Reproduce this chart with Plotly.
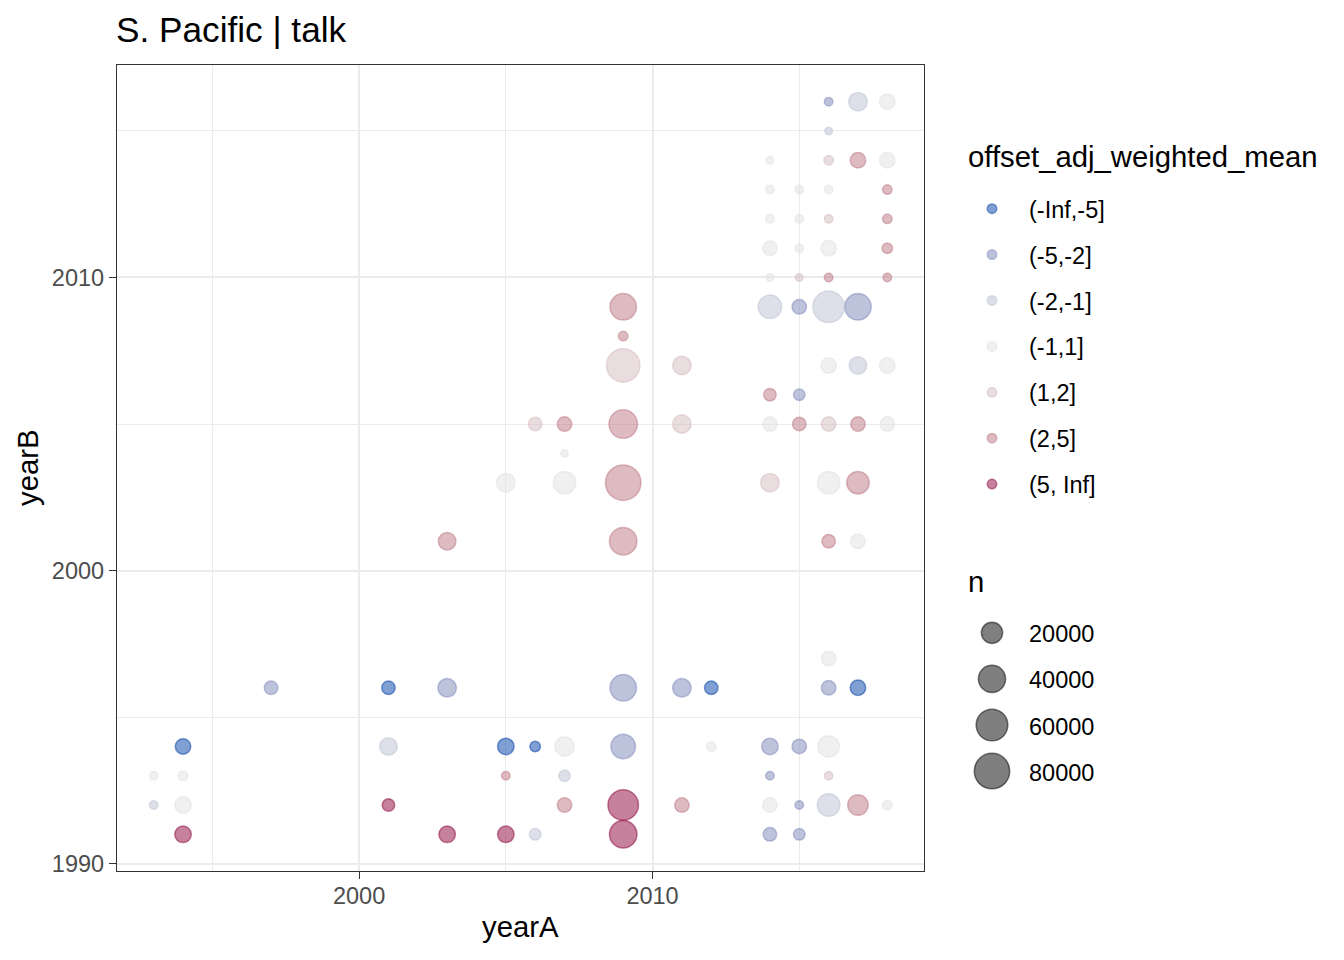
import numpy as np
import plotly.graph_objects as go

# ---------------- data ----------------
categories = ["(-Inf,-5]", "(-5,-2]", "(-2,-1]", "(-1,1]", "(1,2]", "(2,5]", "(5, Inf]"]
cat_colors = ["#023FA5", "#7D87B9", "#BEC1D4", "#E2E2E2", "#D6BCC0", "#BB7784", "#8E063B"]

yearA = [2016, 2017, 2018,
         2016,
         2014, 2016, 2017, 2018,
         2014, 2015, 2016, 2018,
         2014, 2015, 2016, 2018,
         2014, 2015, 2016, 2018,
         2014, 2015, 2016, 2018,
         2009, 2014, 2015, 2016, 2017,
         2009,
         2009, 2011, 2016, 2017, 2018,
         2014, 2015,
         2006, 2007, 2009, 2011, 2014, 2015, 2016, 2017, 2018,
         2007,
         2005, 2007, 2009, 2014, 2016, 2017,
         2003, 2009, 2016, 2017,
         2016,
         1997, 2001, 2003, 2009, 2011, 2012, 2016, 2017,
         1994, 2001, 2005, 2006, 2007, 2009, 2012, 2014, 2015, 2016,
         1993, 1994, 2005, 2007, 2014, 2016,
         1993, 1994, 2001, 2007, 2009, 2011, 2014, 2015, 2016, 2017, 2018,
         1994, 2003, 2005, 2006, 2009, 2014, 2015]

yearB = [2016, 2016, 2016,
         2015,
         2014, 2014, 2014, 2014,
         2013, 2013, 2013, 2013,
         2012, 2012, 2012, 2012,
         2011, 2011, 2011, 2011,
         2010, 2010, 2010, 2010,
         2009, 2009, 2009, 2009, 2009,
         2008,
         2007, 2007, 2007, 2007, 2007,
         2006, 2006,
         2005, 2005, 2005, 2005, 2005, 2005, 2005, 2005, 2005,
         2004,
         2003, 2003, 2003, 2003, 2003, 2003,
         2001, 2001, 2001, 2001,
         1997,
         1996, 1996, 1996, 1996, 1996, 1996, 1996, 1996,
         1994, 1994, 1994, 1994, 1994, 1994, 1994, 1994, 1994, 1994,
         1993, 1993, 1993, 1993, 1993, 1993,
         1992, 1992, 1992, 1992, 1992, 1992, 1992, 1992, 1992, 1992, 1992,
         1991, 1991, 1991, 1991, 1991, 1991, 1991]

n = [250, 13200, 7250,
     40,
     40, 660, 7250, 7250,
     250, 250, 250, 660,
     250, 250, 250, 660,
     5660, 250, 7250, 1270,
     40, 40, 250, 250,
     37600, 27000, 5660, 59300, 37600,
     660,
     69400, 13200, 7250, 11000, 7250,
     3080, 2070,
     4270, 5660, 45800, 13200, 5660, 4270, 5660, 5660, 5660,
     40,
     13200, 23900, 80200, 13200, 23900, 23900,
     11000, 41600, 4270, 5660,
     5660,
     4270, 4270, 13200, 37600, 13200, 4270, 5660, 7250,
     7250, 11000, 9030, 1270, 15600, 30400, 660, 9030, 5660, 20900,
     250, 660, 250, 2070, 250, 250,
     250, 9030, 3080, 5660, 54600, 5660, 5660, 250, 23900, 18100, 660,
     9030, 9030, 9030, 2070, 41600, 4270, 2070]

offset_bin = ["(-5,-2]", "(-2,-1]", "(-1,1]",
              "(-2,-1]",
              "(-1,1]", "(1,2]", "(2,5]", "(-1,1]",
              "(-1,1]", "(-1,1]", "(-1,1]", "(2,5]",
              "(-1,1]", "(-1,1]", "(1,2]", "(2,5]",
              "(-1,1]", "(-1,1]", "(-1,1]", "(2,5]",
              "(-1,1]", "(1,2]", "(2,5]", "(2,5]",
              "(2,5]", "(-2,-1]", "(-5,-2]", "(-2,-1]", "(-5,-2]",
              "(2,5]",
              "(1,2]", "(1,2]", "(-1,1]", "(-2,-1]", "(-1,1]",
              "(2,5]", "(-5,-2]",
              "(1,2]", "(2,5]", "(2,5]", "(1,2]", "(-1,1]", "(2,5]", "(1,2]", "(2,5]", "(-1,1]",
              "(-1,1]",
              "(-1,1]", "(-1,1]", "(2,5]", "(1,2]", "(-1,1]", "(2,5]",
              "(2,5]", "(2,5]", "(2,5]", "(-1,1]",
              "(-1,1]",
              "(-5,-2]", "(-Inf,-5]", "(-5,-2]", "(-5,-2]", "(-5,-2]", "(-Inf,-5]", "(-5,-2]", "(-Inf,-5]",
              "(-Inf,-5]", "(-2,-1]", "(-Inf,-5]", "(-Inf,-5]", "(-1,1]", "(-5,-2]", "(-1,1]", "(-5,-2]", "(-5,-2]", "(-1,1]",
              "(-1,1]", "(-1,1]", "(2,5]", "(-2,-1]", "(-5,-2]", "(1,2]",
              "(-2,-1]", "(-1,1]", "(5, Inf]", "(2,5]", "(5, Inf]", "(2,5]", "(-1,1]", "(-5,-2]", "(-2,-1]", "(2,5]", "(-1,1]",
              "(5, Inf]", "(5, Inf]", "(5, Inf]", "(-2,-1]", "(5, Inf]", "(-5,-2]", "(-5,-2]"]

size_breaks = [20000, 40000, 60000, 80000]
size_labels = ["20000", "40000", "60000", "80000"]
x_ticks = [2000, 2010]
y_ticks = [1990, 2000, 2010]
minor_ticks = [1995, 2005, 2015]

# ---------------- styling ----------------
W, H = 1344, 960          # window
OFF = 8                   # page body margin
WF, HF = W - OFF, H - OFF  # figure size
FONT = "Liberation Sans, Arial, sans-serif"
ALPHA = 0.5
LINE_W = 1.5
PL, PR, PT, PB = 117, 924, 65, 871   # panel in window pixels


def size_px(v):
    return 8.4 + 0.101 * np.sqrt(np.asarray(v, dtype=float)) - LINE_W


def rgba(hexc, a):
    h = hexc.lstrip("#")
    return "rgba(%d,%d,%d,%s)" % (int(h[0:2], 16), int(h[2:4], 16), int(h[4:6], 16), a)


def px(x):
    return (x - OFF) / WF


def py(y):
    return 1 - (y - OFF) / HF


fig = go.Figure()

for cat, col in zip(categories, cat_colors):
    idx = [i for i, c in enumerate(offset_bin) if c == cat]
    fig.add_trace(go.Scatter(
        x=[yearA[i] for i in idx], y=[yearB[i] for i in idx],
        mode="markers", showlegend=False, hoverinfo="skip",
        marker=dict(size=size_px([n[i] for i in idx]), color=rgba(col, ALPHA), opacity=1,
                    line=dict(color=rgba(col, ALPHA), width=LINE_W)),
        xaxis="x", yaxis="y"))

# ---------------- legends (drawn on a helper pixel axis) ----------------
LX0 = 955
key_x = 992
col_y0, col_step = 208.7, 45.9
size_y0, size_step = 632.8, 46.1

fig.add_trace(go.Scatter(
    x=[key_x] * len(categories), y=[col_y0 + col_step * i for i in range(len(categories))],
    mode="markers", showlegend=False, hoverinfo="skip",
    marker=dict(size=11 - LINE_W, color=[rgba(c, ALPHA) for c in cat_colors], opacity=1,
                line=dict(color=[rgba(c, ALPHA) for c in cat_colors], width=LINE_W)),
    xaxis="x2", yaxis="y2"))

fig.add_trace(go.Scatter(
    x=[key_x] * len(size_breaks), y=[size_y0 + size_step * i for i in range(len(size_breaks))],
    mode="markers", showlegend=False, hoverinfo="skip",
    marker=dict(size=size_px(size_breaks), color="rgba(0,0,0,0.5)", opacity=1,
                line=dict(color="rgba(0,0,0,0.5)", width=LINE_W)),
    xaxis="x2", yaxis="y2"))

ann = []
ann.append(dict(text="S. Pacific | talk", x=px(115.5), y=py(29.0), xref="paper", yref="paper",
                xanchor="left", yanchor="middle", showarrow=False,
                font=dict(family=FONT, size=35.2, color="black")))
ann.append(dict(text="yearA", x=px((PL + PR) / 2), y=py(926.7), xref="paper", yref="paper",
                xanchor="center", yanchor="middle", showarrow=False,
                font=dict(family=FONT, size=29.3, color="black")))
ann.append(dict(text="yearB", x=px(27.0), y=py((PT + PB) / 2), xref="paper", yref="paper",
                xanchor="center", yanchor="middle", showarrow=False, textangle=-90,
                font=dict(family=FONT, size=29.3, color="black")))
ann.append(dict(text="offset_adj_weighted_mean", x=968, y=156.7, xref="x2", yref="y2",
                xanchor="left", yanchor="middle", showarrow=False,
                font=dict(family=FONT, size=29.3, color="black")))
ann.append(dict(text="n", x=968, y=581.7, xref="x2", yref="y2",
                xanchor="left", yanchor="middle", showarrow=False,
                font=dict(family=FONT, size=29.3, color="black")))
for i, lab in enumerate(categories):
    ann.append(dict(text=lab, x=1028.5, y=col_y0 + col_step * i + 1, xref="x2", yref="y2",
                    xanchor="left", yanchor="middle", showarrow=False,
                    font=dict(family=FONT, size=23.5, color="black")))
for i, lab in enumerate(size_labels):
    ann.append(dict(text=lab, x=1028.5, y=size_y0 + size_step * i + 1.5, xref="x2", yref="y2",
                    xanchor="left", yanchor="middle", showarrow=False,
                    font=dict(family=FONT, size=23.5, color="black")))
for a in ann:
    a["borderpad"] = 0
    a["borderwidth"] = 0

axis_common = dict(
    ticks="outside", ticklen=7, tickwidth=1.1, tickcolor="#333333",
    tickfont=dict(family=FONT, size=23.5, color="#4D4D4D"),
    showgrid=True, gridcolor="#EBEBEB", gridwidth=2.1,
    showline=True, mirror=True, linecolor="#333333", linewidth=1.3,
    zeroline=False, automargin=False, fixedrange=True,
)

fig.update_layout(
    width=WF, height=HF,
    margin=dict(l=0, r=0, t=0, b=0, pad=0),
    paper_bgcolor="white", plot_bgcolor="white",
    font=dict(family=FONT),
    showlegend=False,
    hovermode=False,
    xaxis=dict(domain=[px(PL), px(PR)], range=[1991.75, 2019.25],
               tickmode="array", tickvals=x_ticks, ticktext=[str(v) for v in x_ticks],
               ticklabelstandoff=-3,
               minor=dict(tickmode="array", tickvals=minor_ticks, showgrid=True,
                          gridcolor="#EBEBEB", gridwidth=1.07, ticks=""),
               anchor="y", **axis_common),
    yaxis=dict(domain=[py(PB), py(PT)], range=[1989.75, 2017.25],
               tickmode="array", tickvals=y_ticks, ticktext=[str(v) for v in y_ticks],
               minor=dict(tickmode="array", tickvals=minor_ticks, showgrid=True,
                          gridcolor="#EBEBEB", gridwidth=1.07, ticks=""),
               anchor="x", **axis_common),
    xaxis2=dict(domain=[px(LX0), 1], range=[LX0, W], visible=False, fixedrange=True, anchor="y2"),
    yaxis2=dict(domain=[0, 1], range=[H, OFF], visible=False, fixedrange=True, anchor="x2"),
    annotations=ann,
)

fig.write_html("out.html", config={"displayModeBar": False})
